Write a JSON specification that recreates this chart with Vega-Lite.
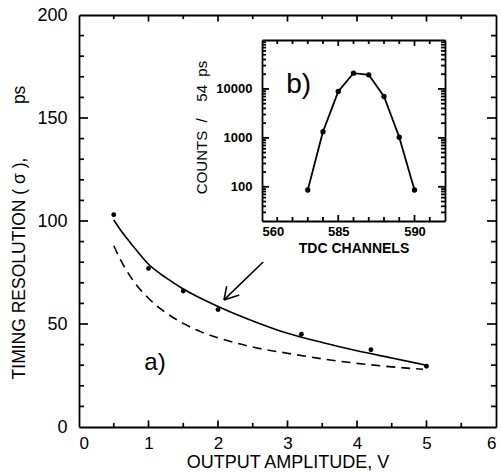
{
  "$schema": "https://vega.github.io/schema/vega-lite/v6.json",
  "width": 417,
  "height": 412,
  "autosize": {"type": "none"},
  "padding": {"left": 79, "top": 15, "right": 6, "bottom": 46},
  "background": "white",
  "config": {
    "view": {"stroke": null},
    "axis": {
      "grid": false,
      "ticks": false,
      "domainColor": "black",
      "domainWidth": 1.8,
      "labelColor": "black",
      "titleColor": "black",
      "labelFont": "Liberation Sans",
      "titleFont": "Liberation Sans",
      "titleFontWeight": "normal"
    },
    "rule": {"color": "black", "strokeWidth": 1.7},
    "text": {"font": "Liberation Sans", "color": "black"}
  },
  "datasets": {
    "points": [
      {"amp": 0.5, "res": 103},
      {"amp": 1, "res": 77},
      {"amp": 1.5, "res": 66},
      {"amp": 2, "res": 57},
      {"amp": 3.2, "res": 45},
      {"amp": 4.2, "res": 37.5},
      {"amp": 5, "res": 29.5}
    ],
    "curves": [
      {"amp": 0.5, "res": 100.5, "curve": "fit"},
      {"amp": 0.6, "res": 95.5, "curve": "fit"},
      {"amp": 0.75, "res": 89, "curve": "fit"},
      {"amp": 1.0, "res": 79, "curve": "fit"},
      {"amp": 1.25, "res": 72.5, "curve": "fit"},
      {"amp": 1.5, "res": 67, "curve": "fit"},
      {"amp": 1.75, "res": 62.5, "curve": "fit"},
      {"amp": 2.0, "res": 58.5, "curve": "fit"},
      {"amp": 2.5, "res": 51.5, "curve": "fit"},
      {"amp": 3.0, "res": 45.5, "curve": "fit"},
      {"amp": 3.5, "res": 41, "curve": "fit"},
      {"amp": 4.0, "res": 37, "curve": "fit"},
      {"amp": 4.5, "res": 33.5, "curve": "fit"},
      {"amp": 5.0, "res": 30, "curve": "fit"},
      {"amp": 0.5, "res": 88, "curve": "limit"},
      {"amp": 0.6, "res": 81, "curve": "limit"},
      {"amp": 0.75, "res": 72.5, "curve": "limit"},
      {"amp": 1.0, "res": 62.5, "curve": "limit"},
      {"amp": 1.25, "res": 55.5, "curve": "limit"},
      {"amp": 1.5, "res": 50.3, "curve": "limit"},
      {"amp": 1.75, "res": 46.3, "curve": "limit"},
      {"amp": 2.0, "res": 43.3, "curve": "limit"},
      {"amp": 2.5, "res": 38.8, "curve": "limit"},
      {"amp": 3.0, "res": 35.8, "curve": "limit"},
      {"amp": 3.5, "res": 33.1, "curve": "limit"},
      {"amp": 4.0, "res": 30.9, "curve": "limit"},
      {"amp": 4.5, "res": 29.2, "curve": "limit"},
      {"amp": 4.95, "res": 28, "curve": "limit"}
    ],
    "arrow": [
      {"x": 2.65, "y": 80.1, "x2": 2.086, "y2": 61.7},
      {"x": 2.125, "y": 68.4, "x2": 2.086, "y2": 61.7},
      {"x": 2.307, "y": 64.1, "x2": 2.086, "y2": 61.7}
    ],
    "tdc": [
      {"channel": 583, "counts": 86},
      {"channel": 584, "counts": 1340},
      {"channel": 585, "counts": 8900},
      {"channel": 586, "counts": 21000},
      {"channel": 587, "counts": 19400},
      {"channel": 588, "counts": 7000},
      {"channel": 589, "counts": 1030},
      {"channel": 590, "counts": 86}
    ],
    "mainXMajor": [{"value": 1}, {"value": 2}, {"value": 3}, {"value": 4}, {"value": 5}],
    "mainXMinor": [{"value": 0.5}, {"value": 1.5}, {"value": 2.5}, {"value": 3.5}, {"value": 4.5}, {"value": 5.5}],
    "mainYMajor": [{"value": 50}, {"value": 100}, {"value": 150}],
    "mainYMinor": [
      {"value": 10}, {"value": 20}, {"value": 30}, {"value": 40},
      {"value": 60}, {"value": 70}, {"value": 80}, {"value": 90},
      {"value": 110}, {"value": 120}, {"value": 130}, {"value": 140},
      {"value": 160}, {"value": 170}, {"value": 180}, {"value": 190}
    ],
    "tdcXMajor": [{"value": 585}, {"value": 590}],
    "tdcXMinor": [
      {"value": 581}, {"value": 582}, {"value": 583}, {"value": 584},
      {"value": 586}, {"value": 587}, {"value": 588}, {"value": 589}, {"value": 591}
    ],
    "tdcYMajor": [{"value": 100}, {"value": 1000}, {"value": 10000}],
    "tdcYMinor": [
      {"value": 30}, {"value": 40}, {"value": 50}, {"value": 60}, {"value": 70}, {"value": 80}, {"value": 90},
      {"value": 200}, {"value": 300}, {"value": 400}, {"value": 500}, {"value": 600}, {"value": 700}, {"value": 800}, {"value": 900},
      {"value": 2000}, {"value": 3000}, {"value": 4000}, {"value": 5000}, {"value": 6000}, {"value": 7000}, {"value": 8000}, {"value": 9000},
      {"value": 20000}, {"value": 30000}, {"value": 40000}, {"value": 50000}, {"value": 60000}, {"value": 70000}, {"value": 80000}, {"value": 90000}
    ]
  },
  "resolve": {
    "scale": {"x": "independent", "y": "independent"},
    "axis": {"x": "independent", "y": "independent"}
  },
  "layer": [
    {
      "data": {"name": "points"},
      "mark": {"type": "point", "filled": true, "color": "black", "size": 24, "opacity": 1},
      "encoding": {
        "x": {
          "field": "amp", "type": "quantitative",
          "scale": {"domain": [0, 6], "nice": false, "zero": false},
          "axis": {
            "orient": "bottom", "values": [0, 1, 2, 3, 4, 5, 6], "format": "d",
            "labelPadding": 8, "labelFontSize": 17,
            "title": "OUTPUT AMPLITUDE, V", "titleFontSize": 18, "titlePadding": 2
          }
        },
        "y": {
          "field": "res", "type": "quantitative",
          "scale": {"domain": [0, 200], "nice": false, "zero": false},
          "axis": {
            "orient": "left", "values": [0, 50, 100, 150, 200],
            "labelPadding": 12, "labelFontSize": 18,
            "title": "TIMING RESOLUTION (\u00a0σ\u00a0),\u00a0\u00a0\u00a0\u00a0\u00a0\u00a0\u00a0\u00a0\u00a0\u00a0\u00a0ps",
            "titleFontSize": 17.5, "titlePadding": 8, "titleY": 217
          }
        }
      }
    },
    {
      "data": {"name": "curves"},
      "transform": [{"filter": "datum.curve == 'fit'"}],
      "mark": {"type": "line", "color": "black", "strokeWidth": 1.6, "interpolate": "monotone"},
      "encoding": {
        "x": {"field": "amp", "type": "quantitative", "scale": {"domain": [0, 6], "nice": false, "zero": false}, "axis": null},
        "y": {"field": "res", "type": "quantitative", "scale": {"domain": [0, 200], "nice": false, "zero": false}, "axis": null}
      }
    },
    {
      "data": {"name": "curves"},
      "transform": [{"filter": "datum.curve == 'limit'"}],
      "mark": {"type": "line", "color": "black", "strokeWidth": 1.6, "strokeDash": [9, 6], "interpolate": "monotone"},
      "encoding": {
        "x": {
          "field": "amp", "type": "quantitative",
          "scale": {"domain": [0, 6], "nice": false, "zero": false},
          "axis": {"orient": "top", "labels": false, "title": null}
        },
        "y": {
          "field": "res", "type": "quantitative",
          "scale": {"domain": [0, 200], "nice": false, "zero": false},
          "axis": {"orient": "right", "labels": false, "title": null}
        }
      }
    },
    {
      "data": {"name": "arrow"},
      "mark": {"type": "rule", "strokeWidth": 1.6},
      "encoding": {
        "x": {"field": "x", "type": "quantitative", "scale": {"domain": [0, 6], "nice": false, "zero": false}, "axis": null},
        "y": {"field": "y", "type": "quantitative", "scale": {"domain": [0, 200], "nice": false, "zero": false}, "axis": null},
        "x2": {"field": "x2"},
        "y2": {"field": "y2"}
      }
    },
    {
      "data": {"values": [{"amp": 1.094, "res": 31, "label": "a)"}]},
      "mark": {"type": "text", "fontSize": 24, "align": "center", "baseline": "middle"},
      "encoding": {
        "x": {"field": "amp", "type": "quantitative", "scale": {"domain": [0, 6], "nice": false, "zero": false}, "axis": null},
        "y": {"field": "res", "type": "quantitative", "scale": {"domain": [0, 200], "nice": false, "zero": false}, "axis": null},
        "text": {"field": "label"}
      }
    },
    {
      "data": {"name": "mainXMajor"},
      "mark": "rule",
      "encoding": {
        "x": {"field": "value", "type": "quantitative", "scale": {"domain": [0, 6], "nice": false, "zero": false}, "axis": null},
        "y": {"datum": 0, "type": "quantitative", "scale": {"domain": [0, 200], "nice": false, "zero": false}, "axis": null},
        "y2": {"datum": 3.2}
      }
    },
    {
      "data": {"name": "mainXMajor"},
      "mark": "rule",
      "encoding": {
        "x": {"field": "value", "type": "quantitative", "scale": {"domain": [0, 6], "nice": false, "zero": false}, "axis": null},
        "y": {"datum": 200, "type": "quantitative", "scale": {"domain": [0, 200], "nice": false, "zero": false}, "axis": null},
        "y2": {"datum": 196.8}
      }
    },
    {
      "data": {"name": "mainXMinor"},
      "mark": "rule",
      "encoding": {
        "x": {"field": "value", "type": "quantitative", "scale": {"domain": [0, 6], "nice": false, "zero": false}, "axis": null},
        "y": {"datum": 0, "type": "quantitative", "scale": {"domain": [0, 200], "nice": false, "zero": false}, "axis": null},
        "y2": {"datum": 2}
      }
    },
    {
      "data": {"name": "mainXMinor"},
      "mark": "rule",
      "encoding": {
        "x": {"field": "value", "type": "quantitative", "scale": {"domain": [0, 6], "nice": false, "zero": false}, "axis": null},
        "y": {"datum": 200, "type": "quantitative", "scale": {"domain": [0, 200], "nice": false, "zero": false}, "axis": null},
        "y2": {"datum": 198}
      }
    },
    {
      "data": {"name": "mainYMajor"},
      "mark": "rule",
      "encoding": {
        "y": {"field": "value", "type": "quantitative", "scale": {"domain": [0, 200], "nice": false, "zero": false}, "axis": null},
        "x": {"datum": 0, "type": "quantitative", "scale": {"domain": [0, 6], "nice": false, "zero": false}, "axis": null},
        "x2": {"datum": 0.13}
      }
    },
    {
      "data": {"name": "mainYMajor"},
      "mark": "rule",
      "encoding": {
        "y": {"field": "value", "type": "quantitative", "scale": {"domain": [0, 200], "nice": false, "zero": false}, "axis": null},
        "x": {"datum": 6, "type": "quantitative", "scale": {"domain": [0, 6], "nice": false, "zero": false}, "axis": null},
        "x2": {"datum": 5.87}
      }
    },
    {
      "data": {"name": "mainYMinor"},
      "mark": "rule",
      "encoding": {
        "y": {"field": "value", "type": "quantitative", "scale": {"domain": [0, 200], "nice": false, "zero": false}, "axis": null},
        "x": {"datum": 0, "type": "quantitative", "scale": {"domain": [0, 6], "nice": false, "zero": false}, "axis": null},
        "x2": {"datum": 0.072}
      }
    },
    {
      "data": {"name": "mainYMinor"},
      "mark": "rule",
      "encoding": {
        "y": {"field": "value", "type": "quantitative", "scale": {"domain": [0, 200], "nice": false, "zero": false}, "axis": null},
        "x": {"datum": 6, "type": "quantitative", "scale": {"domain": [0, 6], "nice": false, "zero": false}, "axis": null},
        "x2": {"datum": 5.928}
      }
    },
    {
      "data": {"name": "tdc"},
      "mark": {"type": "line", "color": "black", "strokeWidth": 1.8},
      "encoding": {
        "x": {
          "field": "channel", "type": "quantitative",
          "scale": {"domain": [580, 592], "range": [183, 366], "nice": false, "zero": false},
          "axis": {
            "orient": "bottom", "offset": -206, "values": [580, 585, 590],
            "labelExpr": "datum.value == 580 ? '560' : datum.label",
            "labelPadding": 4, "labelFontSize": 13, "labelFontWeight": "bold",
            "title": "TDC CHANNELS", "titleFontSize": 14, "titleFontWeight": "bold", "titlePadding": 3
          }
        },
        "y": {
          "field": "counts", "type": "quantitative",
          "scale": {"type": "log", "domain": [20, 100000], "range": [206, 25], "nice": false},
          "axis": {
            "orient": "left", "offset": -183, "values": [100, 1000, 10000], "format": "d",
            "labelPadding": 10, "labelFontSize": 13, "labelFontWeight": "bold",
            "title": "COUNTS\u00a0\u00a0/\u00a0\u00a0\u00a0\u00a054\u00a0\u00a0ps", "titleFontSize": 15, "titlePadding": 6, "titleY": 112
          }
        }
      }
    },
    {
      "data": {"name": "tdc"},
      "mark": {"type": "point", "filled": true, "color": "black", "size": 28, "opacity": 1},
      "encoding": {
        "x": {"field": "channel", "type": "quantitative", "scale": {"domain": [580, 592], "range": [183, 366], "nice": false, "zero": false}, "axis": null},
        "y": {"field": "counts", "type": "quantitative", "scale": {"type": "log", "domain": [20, 100000], "range": [206, 25], "nice": false}, "axis": null}
      }
    },
    {
      "data": {"values": [{"channel": 582.4, "counts": 12300, "label": "b)"}]},
      "mark": {"type": "text", "fontSize": 28, "align": "center", "baseline": "middle"},
      "encoding": {
        "x": {
          "field": "channel", "type": "quantitative",
          "scale": {"domain": [580, 592], "range": [183, 366], "nice": false, "zero": false},
          "axis": {"orient": "top", "offset": -25, "labels": false, "title": null}
        },
        "y": {
          "field": "counts", "type": "quantitative",
          "scale": {"type": "log", "domain": [20, 100000], "range": [206, 25], "nice": false},
          "axis": {"orient": "right", "offset": -51, "labels": false, "title": null}
        },
        "text": {"field": "label"}
      }
    },
    {
      "data": {"name": "tdcXMajor"},
      "mark": {"type": "point", "shape": "M0,0L0,-2", "filled": false, "color": "black", "strokeWidth": 1.8, "size": 36, "opacity": 1},
      "encoding": {
        "x": {"field": "value", "type": "quantitative", "scale": {"domain": [580, 592], "range": [183, 366], "nice": false, "zero": false}, "axis": null},
        "y": {"datum": 20, "type": "quantitative", "scale": {"type": "log", "domain": [20, 100000], "range": [206, 25], "nice": false}, "axis": null}
      }
    },
    {
      "data": {"name": "tdcXMajor"},
      "mark": {"type": "point", "shape": "M0,0L0,2", "filled": false, "color": "black", "strokeWidth": 1.8, "size": 36, "opacity": 1},
      "encoding": {
        "x": {"field": "value", "type": "quantitative", "scale": {"domain": [580, 592], "range": [183, 366], "nice": false, "zero": false}, "axis": null},
        "y": {"datum": 100000, "type": "quantitative", "scale": {"type": "log", "domain": [20, 100000], "range": [206, 25], "nice": false}, "axis": null}
      }
    },
    {
      "data": {"name": "tdcXMinor"},
      "mark": {"type": "point", "shape": "M0,0L0,-2", "filled": false, "color": "black", "strokeWidth": 1.8, "size": 16, "opacity": 1},
      "encoding": {
        "x": {"field": "value", "type": "quantitative", "scale": {"domain": [580, 592], "range": [183, 366], "nice": false, "zero": false}, "axis": null},
        "y": {"datum": 20, "type": "quantitative", "scale": {"type": "log", "domain": [20, 100000], "range": [206, 25], "nice": false}, "axis": null}
      }
    },
    {
      "data": {"name": "tdcXMinor"},
      "mark": {"type": "point", "shape": "M0,0L0,2", "filled": false, "color": "black", "strokeWidth": 1.8, "size": 16, "opacity": 1},
      "encoding": {
        "x": {"field": "value", "type": "quantitative", "scale": {"domain": [580, 592], "range": [183, 366], "nice": false, "zero": false}, "axis": null},
        "y": {"datum": 100000, "type": "quantitative", "scale": {"type": "log", "domain": [20, 100000], "range": [206, 25], "nice": false}, "axis": null}
      }
    },
    {
      "data": {"name": "tdcYMajor"},
      "mark": {"type": "point", "shape": "M0,0L2,0", "filled": false, "color": "black", "strokeWidth": 1.8, "size": 49, "opacity": 1},
      "encoding": {
        "y": {"field": "value", "type": "quantitative", "scale": {"type": "log", "domain": [20, 100000], "range": [206, 25], "nice": false}, "axis": null},
        "x": {"datum": 580, "type": "quantitative", "scale": {"domain": [580, 592], "range": [183, 366], "nice": false, "zero": false}, "axis": null}
      }
    },
    {
      "data": {"name": "tdcYMajor"},
      "mark": {"type": "point", "shape": "M0,0L-2,0", "filled": false, "color": "black", "strokeWidth": 1.8, "size": 49, "opacity": 1},
      "encoding": {
        "y": {"field": "value", "type": "quantitative", "scale": {"type": "log", "domain": [20, 100000], "range": [206, 25], "nice": false}, "axis": null},
        "x": {"datum": 592, "type": "quantitative", "scale": {"domain": [580, 592], "range": [183, 366], "nice": false, "zero": false}, "axis": null}
      }
    },
    {
      "data": {"name": "tdcYMinor"},
      "mark": {"type": "point", "shape": "M0,0L2,0", "filled": false, "color": "black", "strokeWidth": 1.8, "size": 16, "opacity": 1},
      "encoding": {
        "y": {"field": "value", "type": "quantitative", "scale": {"type": "log", "domain": [20, 100000], "range": [206, 25], "nice": false}, "axis": null},
        "x": {"datum": 580, "type": "quantitative", "scale": {"domain": [580, 592], "range": [183, 366], "nice": false, "zero": false}, "axis": null}
      }
    },
    {
      "data": {"name": "tdcYMinor"},
      "mark": {"type": "point", "shape": "M0,0L-2,0", "filled": false, "color": "black", "strokeWidth": 1.8, "size": 16, "opacity": 1},
      "encoding": {
        "y": {"field": "value", "type": "quantitative", "scale": {"type": "log", "domain": [20, 100000], "range": [206, 25], "nice": false}, "axis": null},
        "x": {"datum": 592, "type": "quantitative", "scale": {"domain": [580, 592], "range": [183, 366], "nice": false, "zero": false}, "axis": null}
      }
    }
  ]
}
